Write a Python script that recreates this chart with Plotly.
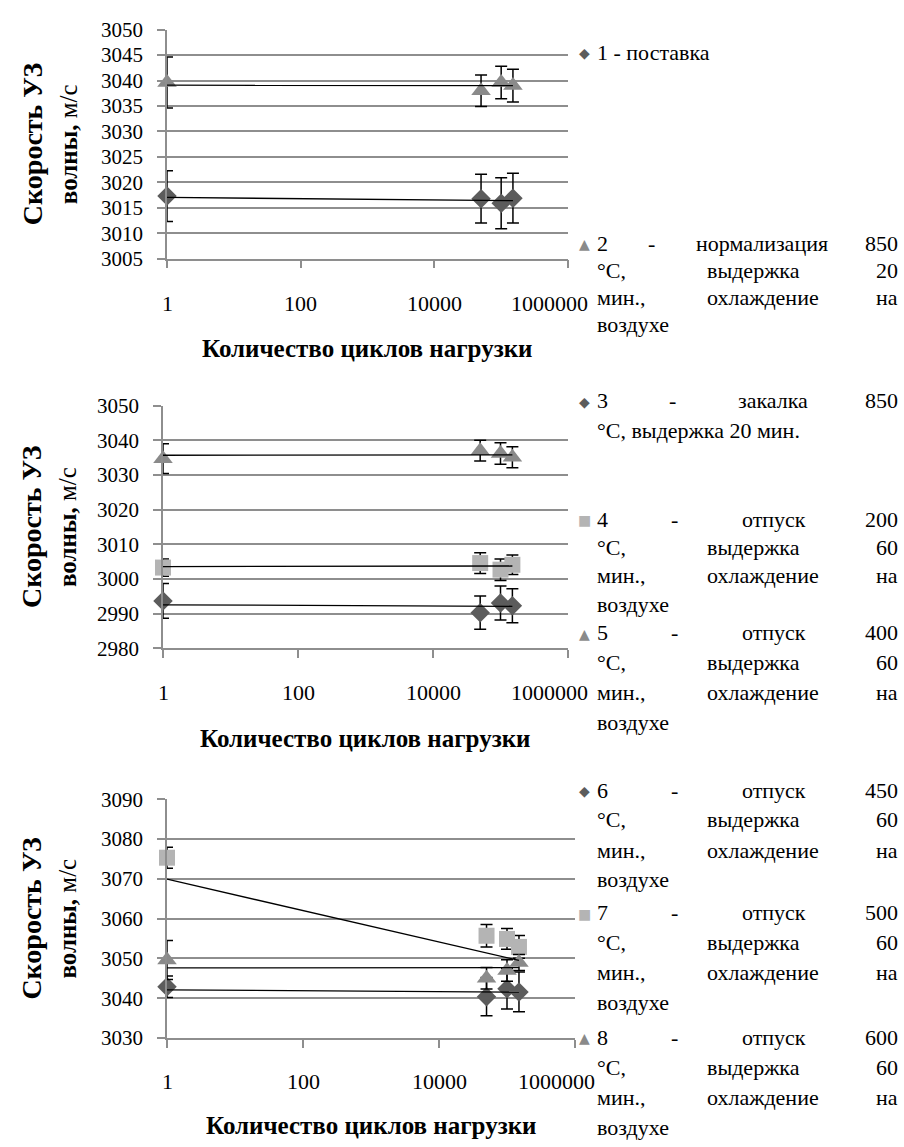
import numpy as np
import plotly.graph_objects as go

W, H = 904, 1147

# ---------------- data ----------------
cycles = [1, 50000, 100000, 150000]

# panel 1
v1_supply = [3017.3, 3016.8, 3015.9, 3016.9]
e1_supply = [5.0, 4.8, 5.0, 4.9]
v2_norm = [3039.6, 3038.0, 3039.6, 3039.0]
e2_norm = [5.0, 3.1, 3.2, 3.2]
# panel 2
v3_quench = [2993.7, 2990.3, 2993.1, 2992.3]
e3_quench = [5.0, 4.8, 4.9, 4.9]
v4_t200 = [3003.3, 3004.6, 3002.7, 3004.1]
e4_t200 = [2.5, 3.0, 3.1, 2.8]
v5_t400 = [3034.7, 3037.0, 3036.2, 3035.1]
e5_t400 = [4.3, 3.0, 3.1, 3.0]
# panel 3
v6_t450 = [3042.9, 3040.4, 3042.4, 3041.6]
e6_t450 = [2.7, 4.8, 5.1, 5.0]
v7_t500 = [3075.3, 3055.7, 3054.9, 3052.9]
e7_t500 = [2.65, 2.8, 2.6, 2.85]
v8_t600 = [3049.6, 3045.0, 3047.0, 3049.0]
e8_t600 = [4.9, 2.7, 2.7, 2.0]

x_tickvals = [1, 100, 10000, 1000000]
x_ticktext = ["1", "100", "10000", "1000000"]
y_ranges = [[3005, 3050], [2980, 3050], [3030, 3090]]
y_dticks = [5, 10, 10]

x_title = "Количество циклов нагрузки"
y_title_1 = "Скорость УЗ"
y_title_2 = "<b>волны,</b> м/с"

legend_entries = [
    ("diamond", ["1 - поставка"]),
    ("triangle", ["2 - нормализация 850", "°C, выдержка 20", "мин., охлаждение на", "воздухе"]),
    ("diamond", ["3 - закалка 850", "°C, выдержка 20 мин."]),
    ("square", ["4 - отпуск 200", "°C, выдержка 60", "мин., охлаждение на", "воздухе"]),
    ("triangle", ["5 - отпуск 400", "°C, выдержка 60", "мин., охлаждение на", "воздухе"]),
    ("diamond", ["6 - отпуск 450", "°C, выдержка 60", "мин., охлаждение на", "воздухе"]),
    ("square", ["7 - отпуск 500", "°C, выдержка 60", "мин., охлаждение на", "воздухе"]),
    ("triangle", ["8 - отпуск 600", "°C, выдержка 60", "мин., охлаждение на", "воздухе"]),
]

# ---------------- style ----------------
FONT = "'Liberation Serif', 'Times New Roman', serif"
DARK = "#5c5c5c"
MID = "#8a8a8a"
LIGHT = "#b4b4b4"
GRID = "#8e8e8e"
STY = {
    "diamond": dict(symbol="diamond", color=DARK, size=15, glyph="◆"),
    "triangle": dict(symbol="triangle-up", color=MID, size=17, glyph="▲"),
    "square": dict(symbol="square", color=LIGHT, size=16, glyph="■"),
}

# pixel boxes of the three plot areas: (left, right, top, bottom)
boxes = [(167, 568, 18, 252), (163, 568, 402, 650), (167, 575, 804, 1048)]
label_offset = [46, 45, 44]
title_offset = [92, 92, 89]

panels = [
    [("diamond", v1_supply, e1_supply), ("triangle", v2_norm, e2_norm)],
    [("diamond", v3_quench, e3_quench), ("square", v4_t200, e4_t200), ("triangle", v5_t400, e5_t400)],
    [("diamond", v6_t450, e6_t450), ("square", v7_t500, e7_t500), ("triangle", v8_t600, e8_t600)],
]

fig = go.Figure()
annotations = []

for i, (box, series) in enumerate(zip(boxes, panels)):
    k = "" if i == 0 else str(i + 1)
    L, R, T, B = box
    xa = dict(
        domain=[L / W, R / W], type="log", range=[0, 6], anchor="y" + k,
        tickvals=x_tickvals, showticklabels=False, showgrid=False, zeroline=False,
        showline=True, linecolor=GRID, linewidth=1.5,
        ticks="outside", ticklen=8, tickcolor=GRID, tickwidth=1.5,
    )
    ya = dict(
        domain=[1 - B / H, 1 - T / H], range=y_ranges[i], dtick=y_dticks[i],
        anchor="x" + k, showgrid=True, gridcolor=GRID, gridwidth=1.5, zeroline=False,
        showline=True, linecolor=GRID, linewidth=1.5,
        ticks="outside", ticklen=8, tickcolor=GRID, tickwidth=1.5,
        tickfont=dict(family=FONT, size=21, color="black"), ticklabelstandoff=10,
    )
    fig.layout["xaxis" + k] = xa
    fig.layout["yaxis" + k] = ya

    for kind, vals, errs in series:
        s = STY[kind]
        fig.add_trace(go.Scatter(
            x=cycles, y=vals, mode="markers", xaxis="x" + k, yaxis="y" + k, cliponaxis=False,
            marker=dict(symbol=s["symbol"], color=s["color"], size=s["size"], line=dict(width=0)),
            error_y=dict(type="data", array=errs, color="black", thickness=1.5, width=6),
            showlegend=False,
        ))
    for kind, vals, errs in series:
        slope, icpt = np.polyfit(np.array(cycles, float), np.array(vals, float), 1)
        xs = np.array([min(cycles), max(cycles)], float)
        fig.add_trace(go.Scatter(
            x=xs, y=icpt + slope * xs, mode="lines", xaxis="x" + k, yaxis="y" + k,
            line=dict(color="black", width=1.3), showlegend=False, hoverinfo="skip",
        ))

    # x tick labels (last one kept inside the chart area, as in the source)
    for j, (tv, tt) in enumerate(zip(x_tickvals, x_ticktext)):
        last = j == len(x_tickvals) - 1
        annotations.append(dict(
            text=tt, xref="x" + k, yref="paper", x=np.log10(tv), y=1 - (B + label_offset[i]) / H,
            xanchor="right" if last else "center", xshift=22 if last else 0,
            yanchor="middle", showarrow=False, font=dict(family=FONT, size=22, color="black")))

    cx = (L + R) / 2 / W
    cy = 1 - (T + B) / 2 / H
    annotations.append(dict(
        text="<b>" + x_title + "</b>", xref="paper", yref="paper", x=cx,
        y=1 - (B + title_offset[i]) / H,
        xanchor="center", yanchor="middle", showarrow=False,
        font=dict(family=FONT, size=25, color="black")))
    annotations.append(dict(
        text="<b>" + y_title_1 + "</b>", xref="paper", yref="paper", x=32 / W, y=cy,
        xanchor="center", yanchor="middle", showarrow=False, textangle=-90,
        font=dict(family=FONT, size=28, color="black")))
    annotations.append(dict(
        text=y_title_2, xref="paper", yref="paper", x=68 / W, y=cy,
        xanchor="center", yanchor="middle", showarrow=False, textangle=-90,
        font=dict(family=FONT, size=25, color="black")))

# ---------------- legend as justified text ----------------
LF = 22
CW = {" ": 0.25, "-": 0.333, "°": 0.4, "C": 0.667, ",": 0.25, ".": 0.25,
      "м": 0.63, "ш": 0.77, "щ": 0.77, "ж": 0.7, "ы": 0.67, "и": 0.535, "н": 0.535, "п": 0.535,
      "ц": 0.535, "а": 0.444, "е": 0.444, "с": 0.444, "з": 0.4, "г": 0.41, "т": 0.45, "к": 0.48,
      "в": 0.472, "я": 0.48}


def tw(s):
    return sum(CW.get(c, 0.5) for c in s) * LF


TXT_L, TXT_R, MARK_X = 595, 900, 584
legend_rows = [
    [41],
    [236, 264, 292, 319],
    [397, 427],
    [518, 547, 576, 605],
    [634, 664, 695, 726],
    [795, 825, 856, 886],
    [920, 950, 981, 1012],
    [1047, 1078, 1109, 1139],
]

for (kind, lines), rows in zip(legend_entries, legend_rows):
    s = STY[kind]
    annotations.append(dict(
        text=s["glyph"], xref="paper", yref="paper", x=MARK_X / W, y=1 - (rows[0] + 1) / H,
        xanchor="center", yanchor="middle", showarrow=False,
        font=dict(family="DejaVu Sans", size=14, color=s["color"])))
    for j, (line, ry) in enumerate(zip(lines, rows)):
        y = 1 - ry / H
        last = (j == len(lines) - 1)
        words = line.split(" ")
        if last or len(words) < 2:
            annotations.append(dict(
                text=line, xref="paper", yref="paper", x=TXT_L / W, y=y, xanchor="left",
                yanchor="middle", showarrow=False, font=dict(family=FONT, size=LF, color="black")))
            continue
        widths = [tw(w_) for w_ in words]
        gap = (TXT_R - TXT_L - sum(widths)) / (len(words) - 1)
        xpos = TXT_L
        for wi, (w_, wd) in enumerate(zip(words, widths)):
            last_word = wi == len(words) - 1
            annotations.append(dict(
                text=w_, xref="paper", yref="paper", x=(TXT_R if last_word else xpos) / W, y=y,
                xanchor="right" if last_word else "left",
                yanchor="middle", showarrow=False, font=dict(family=FONT, size=LF, color="black")))
            xpos += wd + gap

fig.update_layout(
    width=W, height=H, margin=dict(l=0, r=0, t=0, b=0),
    paper_bgcolor="white", plot_bgcolor="white", showlegend=False,
    annotations=annotations, font=dict(family=FONT),
)

fig.write_html(
    "out.html",
    config={"displayModeBar": False},
    post_script="document.body.style.margin='0px';document.body.style.overflow='hidden';",
)
